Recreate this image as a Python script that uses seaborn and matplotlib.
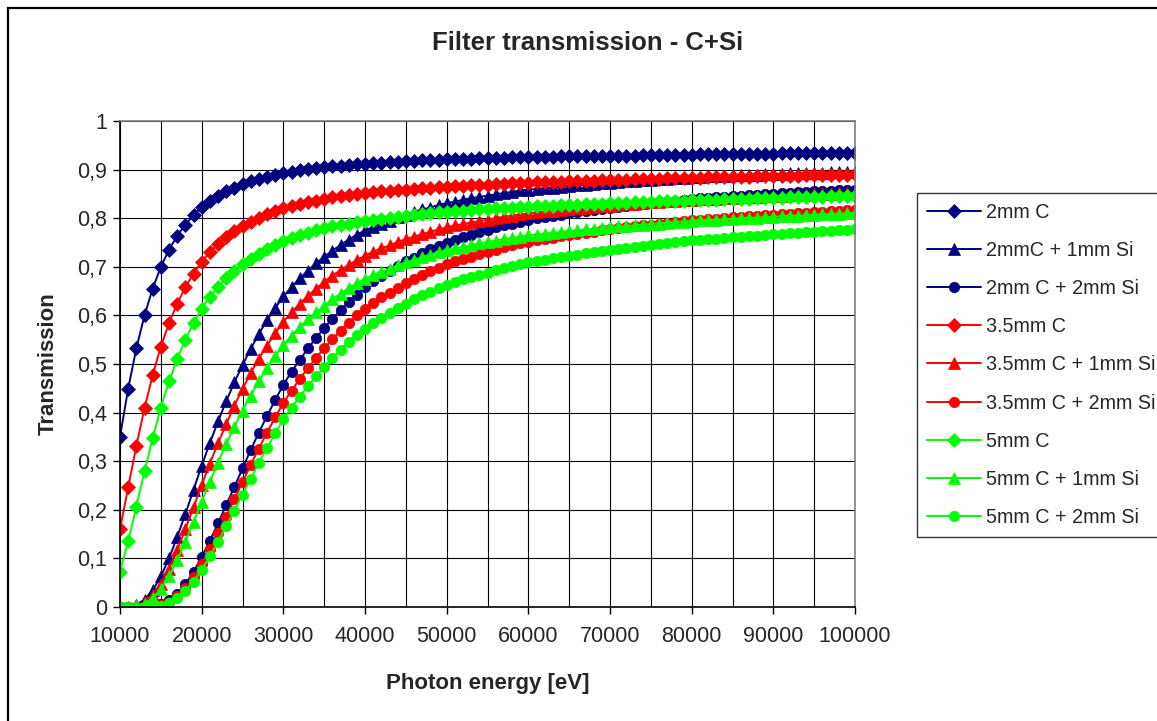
import numpy as np
import pandas as pd
import matplotlib
matplotlib.use("Agg")
import matplotlib.pyplot as plt
from matplotlib.patches import Rectangle
import seaborn as sns

# ---------------- data ----------------
energy_ev = list(range(10000, 100001, 1000))

series_names = ["2mm C", "2mmC + 1mm Si", "2mm C + 2mm Si",
                "3.5mm C", "3.5mm C + 1mm Si", "3.5mm C + 2mm Si",
                "5mm C", "5mm C + 1mm Si", "5mm C + 2mm Si"]

t_2c = [0.350, 0.449, 0.532, 0.600, 0.655, 0.700, 0.735, 0.764, 0.787, 0.806,
        0.823, 0.835, 0.846, 0.855, 0.863, 0.870, 0.876, 0.881, 0.885, 0.889,
        0.893, 0.896, 0.899, 0.901, 0.903, 0.905, 0.907, 0.908, 0.910, 0.911,
        0.912, 0.913, 0.914, 0.915, 0.916, 0.917, 0.918, 0.919, 0.919, 0.920,
        0.921, 0.921, 0.922, 0.922, 0.923, 0.923, 0.924, 0.924, 0.925, 0.925,
        0.925, 0.926, 0.926, 0.926, 0.927, 0.927, 0.927, 0.928, 0.928, 0.928,
        0.929, 0.929, 0.929, 0.929, 0.930, 0.930, 0.930, 0.931, 0.931, 0.931,
        0.931, 0.932, 0.932, 0.932, 0.932, 0.932, 0.933, 0.933, 0.933, 0.933,
        0.933, 0.934, 0.934, 0.934, 0.934, 0.934, 0.935, 0.935, 0.935, 0.935,
        0.935]

t_2c_1si = [0.000, 0.001, 0.005, 0.015, 0.034, 0.063, 0.100, 0.144, 0.191, 0.241,
            0.291, 0.337, 0.382, 0.423, 0.462, 0.498, 0.531, 0.562, 0.590, 0.615,
            0.639, 0.658, 0.676, 0.692, 0.707, 0.721, 0.733, 0.745, 0.756, 0.766,
            0.775, 0.782, 0.789, 0.795, 0.802, 0.807, 0.813, 0.818, 0.822, 0.827,
            0.831, 0.834, 0.838, 0.841, 0.844, 0.846, 0.849, 0.852, 0.854, 0.857,
            0.859, 0.860, 0.862, 0.863, 0.865, 0.867, 0.868, 0.869, 0.871, 0.872,
            0.873, 0.874, 0.876, 0.877, 0.878, 0.879, 0.880, 0.881, 0.882, 0.883,
            0.884, 0.885, 0.886, 0.886, 0.887, 0.888, 0.888, 0.889, 0.889, 0.890,
            0.891, 0.891, 0.892, 0.892, 0.893, 0.894, 0.894, 0.895, 0.895, 0.896,
            0.896]

t_2c_2si = [0.000, 0.000, 0.000, 0.000, 0.002, 0.006, 0.014, 0.027, 0.047, 0.072,
            0.103, 0.136, 0.172, 0.210, 0.247, 0.285, 0.323, 0.359, 0.393, 0.426,
            0.457, 0.484, 0.508, 0.532, 0.553, 0.574, 0.593, 0.611, 0.628, 0.643,
            0.658, 0.670, 0.681, 0.691, 0.701, 0.711, 0.719, 0.728, 0.736, 0.743,
            0.750, 0.756, 0.761, 0.766, 0.771, 0.776, 0.781, 0.785, 0.789, 0.793,
            0.797, 0.800, 0.802, 0.805, 0.807, 0.810, 0.812, 0.814, 0.817, 0.819,
            0.821, 0.823, 0.825, 0.827, 0.829, 0.831, 0.833, 0.834, 0.836, 0.838,
            0.840, 0.841, 0.842, 0.843, 0.844, 0.845, 0.846, 0.847, 0.848, 0.849,
            0.850, 0.851, 0.852, 0.853, 0.854, 0.855, 0.855, 0.856, 0.857, 0.858,
            0.859]

t_35c = [0.160, 0.246, 0.331, 0.409, 0.477, 0.536, 0.584, 0.624, 0.658, 0.686,
         0.710, 0.730, 0.747, 0.761, 0.773, 0.783, 0.792, 0.800, 0.808, 0.814,
         0.820, 0.825, 0.829, 0.833, 0.836, 0.840, 0.843, 0.845, 0.848, 0.850,
         0.852, 0.853, 0.855, 0.856, 0.858, 0.859, 0.861, 0.862, 0.863, 0.864,
         0.865, 0.866, 0.867, 0.868, 0.869, 0.869, 0.870, 0.871, 0.872, 0.873,
         0.873, 0.874, 0.874, 0.875, 0.875, 0.876, 0.876, 0.877, 0.877, 0.878,
         0.879, 0.879, 0.879, 0.880, 0.880, 0.881, 0.881, 0.882, 0.882, 0.882,
         0.883, 0.883, 0.884, 0.884, 0.884, 0.885, 0.885, 0.885, 0.886, 0.886,
         0.886, 0.887, 0.887, 0.887, 0.888, 0.888, 0.888, 0.889, 0.889, 0.889,
         0.890]

t_35c_1si = [0.000, 0.001, 0.003, 0.010, 0.025, 0.048, 0.079, 0.117, 0.160, 0.205,
             0.251, 0.295, 0.337, 0.376, 0.414, 0.449, 0.481, 0.511, 0.538, 0.563,
             0.587, 0.606, 0.624, 0.640, 0.655, 0.669, 0.682, 0.693, 0.704, 0.714,
             0.723, 0.731, 0.738, 0.744, 0.751, 0.757, 0.762, 0.767, 0.772, 0.777,
             0.781, 0.785, 0.788, 0.791, 0.794, 0.797, 0.800, 0.803, 0.805, 0.808,
             0.810, 0.812, 0.814, 0.815, 0.817, 0.819, 0.820, 0.822, 0.823, 0.825,
             0.826, 0.827, 0.829, 0.830, 0.831, 0.833, 0.834, 0.835, 0.836, 0.837,
             0.838, 0.839, 0.840, 0.840, 0.841, 0.842, 0.843, 0.843, 0.844, 0.845,
             0.846, 0.846, 0.847, 0.848, 0.848, 0.849, 0.850, 0.850, 0.851, 0.851,
             0.852]

t_35c_2si = [0.000, 0.000, 0.000, 0.000, 0.001, 0.004, 0.011, 0.022, 0.039, 0.061,
             0.089, 0.119, 0.152, 0.186, 0.222, 0.257, 0.292, 0.326, 0.359, 0.390,
             0.420, 0.445, 0.469, 0.491, 0.513, 0.532, 0.551, 0.568, 0.585, 0.600,
             0.614, 0.626, 0.637, 0.647, 0.657, 0.666, 0.675, 0.683, 0.691, 0.698,
             0.705, 0.711, 0.716, 0.721, 0.726, 0.731, 0.735, 0.740, 0.744, 0.748,
             0.752, 0.755, 0.757, 0.760, 0.763, 0.765, 0.768, 0.770, 0.772, 0.775,
             0.777, 0.779, 0.781, 0.783, 0.785, 0.787, 0.789, 0.791, 0.792, 0.794,
             0.796, 0.797, 0.798, 0.799, 0.800, 0.802, 0.803, 0.804, 0.805, 0.806,
             0.807, 0.808, 0.809, 0.810, 0.811, 0.812, 0.813, 0.814, 0.815, 0.816,
             0.817]

t_5c = [0.073, 0.135, 0.206, 0.279, 0.347, 0.410, 0.464, 0.510, 0.550, 0.584,
        0.614, 0.638, 0.659, 0.676, 0.692, 0.705, 0.717, 0.727, 0.737, 0.745,
        0.754, 0.759, 0.765, 0.770, 0.775, 0.779, 0.783, 0.786, 0.789, 0.792,
        0.795, 0.797, 0.799, 0.801, 0.803, 0.805, 0.807, 0.809, 0.810, 0.812,
        0.813, 0.814, 0.815, 0.817, 0.818, 0.819, 0.820, 0.821, 0.822, 0.823,
        0.824, 0.825, 0.825, 0.826, 0.827, 0.828, 0.828, 0.829, 0.830, 0.830,
        0.831, 0.832, 0.832, 0.833, 0.833, 0.834, 0.835, 0.835, 0.836, 0.836,
        0.837, 0.837, 0.838, 0.838, 0.839, 0.839, 0.840, 0.840, 0.841, 0.841,
        0.842, 0.842, 0.843, 0.843, 0.844, 0.844, 0.844, 0.845, 0.845, 0.846,
        0.846]

t_5c_1si = [0.000, 0.000, 0.002, 0.007, 0.018, 0.037, 0.063, 0.096, 0.134, 0.174,
            0.217, 0.257, 0.297, 0.335, 0.371, 0.404, 0.435, 0.464, 0.491, 0.516,
            0.539, 0.558, 0.576, 0.592, 0.606, 0.620, 0.633, 0.645, 0.656, 0.666,
            0.675, 0.683, 0.690, 0.696, 0.703, 0.709, 0.714, 0.720, 0.725, 0.730,
            0.734, 0.738, 0.741, 0.744, 0.748, 0.751, 0.754, 0.757, 0.759, 0.762,
            0.765, 0.766, 0.768, 0.770, 0.772, 0.774, 0.775, 0.777, 0.778, 0.780,
            0.782, 0.783, 0.784, 0.785, 0.787, 0.788, 0.789, 0.791, 0.792, 0.793,
            0.795, 0.796, 0.796, 0.797, 0.798, 0.799, 0.800, 0.801, 0.801, 0.802,
            0.803, 0.804, 0.805, 0.805, 0.806, 0.807, 0.808, 0.808, 0.809, 0.810,
            0.811]

t_5c_2si = [0.000, 0.000, 0.000, 0.000, 0.001, 0.003, 0.009, 0.018, 0.033, 0.052,
            0.077, 0.104, 0.134, 0.166, 0.198, 0.231, 0.264, 0.296, 0.327, 0.357,
            0.386, 0.410, 0.433, 0.454, 0.475, 0.494, 0.512, 0.529, 0.545, 0.559,
            0.573, 0.585, 0.595, 0.605, 0.615, 0.624, 0.633, 0.641, 0.648, 0.656,
            0.663, 0.668, 0.674, 0.679, 0.684, 0.688, 0.693, 0.697, 0.701, 0.706,
            0.710, 0.712, 0.715, 0.718, 0.720, 0.723, 0.725, 0.728, 0.730, 0.732,
            0.735, 0.737, 0.739, 0.741, 0.743, 0.745, 0.747, 0.749, 0.751, 0.753,
            0.755, 0.756, 0.757, 0.758, 0.759, 0.761, 0.762, 0.763, 0.764, 0.765,
            0.767, 0.768, 0.769, 0.770, 0.771, 0.772, 0.773, 0.774, 0.775, 0.776,
            0.777]

x_ticks = [10000, 20000, 30000, 40000, 50000, 60000, 70000, 80000, 90000, 100000]
x_tick_labels = ["10000", "20000", "30000", "40000", "50000", "60000",
                 "70000", "80000", "90000", "100000"]
y_ticks = [0.0, 0.1, 0.2, 0.3, 0.4, 0.5, 0.6, 0.7, 0.8, 0.9, 1.0]
y_tick_labels = ["0", "0,1", "0,2", "0,3", "0,4", "0,5", "0,6", "0,7", "0,8", "0,9", "1"]

# ---------------- styling ----------------
series_values = [t_2c, t_2c_1si, t_2c_2si, t_35c, t_35c_1si, t_35c_2si,
                 t_5c, t_5c_1si, t_5c_2si]
colors = ["#000080"] * 3 + ["#FF0000"] * 3 + ["#00FF00"] * 3
markers = ["D", "^", "o"] * 3
msizes = [7.5, 8.0, 7.5] * 3

sns.set_style("white")
plt.rcParams["font.family"] = ["Liberation Sans", "DejaVu Sans"]

fig = plt.figure(figsize=(11.57, 7.21), dpi=100)
W, H = 1157, 721
ax = fig.add_axes([120 / W, 1 - 607 / H, (855 - 120) / W, (607 - 121) / H])

for name, vals, col, mk, ms in zip(series_names, series_values, colors, markers, msizes):
    df = pd.DataFrame({"energy": energy_ev, "T": vals})
    sns.lineplot(data=df, x="energy", y="T", ax=ax, color=col, marker=mk,
                 markersize=ms, markeredgecolor=col, markeredgewidth=0.5,
                 linewidth=1.4, label=name, sort=False, errorbar=None)

ax.set_xlim(10000, 100000)
ax.set_ylim(0, 1)

ax.set_xticks(x_ticks)
ax.set_xticklabels(x_tick_labels, fontsize=15.5)
ax.set_xticks(np.arange(10000, 100001, 5000), minor=True)
ax.set_yticks(y_ticks)
ax.set_yticklabels(y_tick_labels, fontsize=15.5)

ax.grid(True, which="both", axis="x", color="black", linewidth=0.8)
ax.grid(True, which="major", axis="y", color="black", linewidth=0.8)
ax.set_axisbelow(True)

ax.tick_params(axis="x", which="major", direction="out", length=5, width=1,
               color="black", pad=9)
ax.tick_params(axis="x", which="minor", length=0)
ax.tick_params(axis="y", which="major", direction="out", length=5, width=1,
               color="black", pad=4)
ax.tick_params(left=True, bottom=True)

for side in ["left", "bottom"]:
    ax.spines[side].set_color("black")
    ax.spines[side].set_linewidth(1.2)
for side in ["top", "right"]:
    ax.spines[side].set_color("#808080")
    ax.spines[side].set_linewidth(1.2)

ax.set_xlabel("Photon energy [eV]", fontsize=16, fontweight="bold", labelpad=18.5)
ax.set_ylabel("Transmission", fontsize=16, fontweight="bold", labelpad=13.5)

fig.text(588 / W, 1 - 43 / H, "Filter transmission - C+Si", ha="center", va="center",
         fontsize=18.5, fontweight="bold")

handles, labels = ax.get_legend_handles_labels()
leg = ax.legend(handles, labels, loc="upper left",
                bbox_to_anchor=(917 / W, 1 - 193 / H), bbox_transform=fig.transFigure,
                frameon=True, fancybox=False, edgecolor="black", fontsize=14.2,
                handlelength=2.75, handletextpad=0.25, labelspacing=0.97,
                borderpad=0.5, borderaxespad=0.0, numpoints=1)
leg.get_frame().set_linewidth(1.0)

# chart-area border
fig.patches.append(Rectangle((8 / W, -0.02), 1.2, 1 - 8 / H + 0.02,
                             transform=fig.transFigure, fill=False,
                             edgecolor="black", linewidth=1.6, zorder=10))

fig.savefig("out.png", dpi=100)
